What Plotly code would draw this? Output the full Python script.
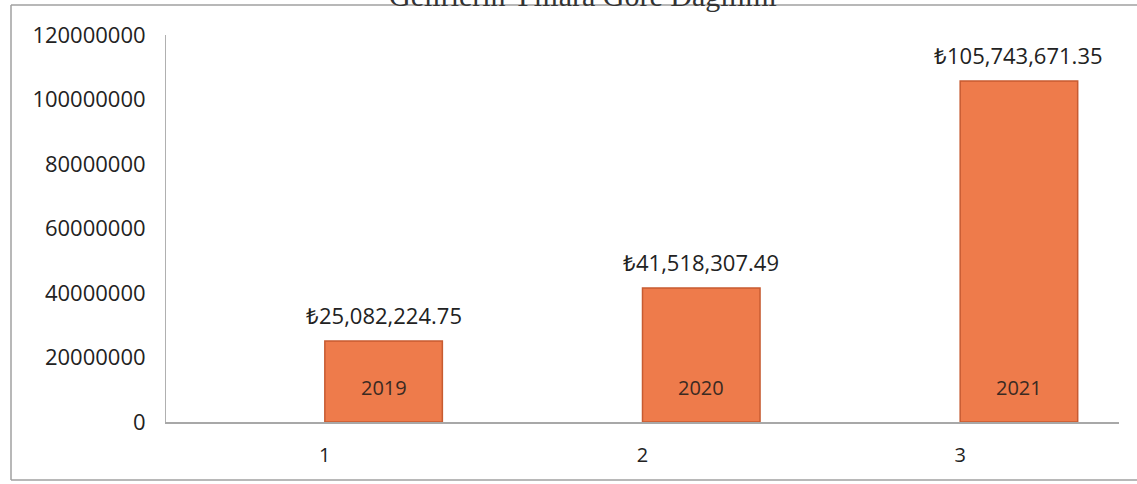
import plotly.graph_objects as go

categories = [1, 2, 3]
years = ["2019", "2020", "2021"]
values = [25082224.75, 41518307.49, 105743671.35]
value_labels = ["₺25,082,224.75", "₺41,518,307.49", "₺105,743,671.35"]
y_ticks = [0, 20000000, 40000000, 60000000, 80000000, 100000000, 120000000]
y_tick_labels = [str(v) for v in y_ticks]

BAR_W = 0.37
FONT = "Open Sans"

fig = go.Figure()
fig.add_trace(go.Bar(
    x=categories, y=values, width=BAR_W, offset=0,
    marker=dict(color="#EE7B4B", line=dict(color="#C75B31", width=1.5)),
    hoverinfo="skip",
))

annotations = []
for c, v, lab, yr in zip(categories, values, value_labels, years):
    annotations.append(dict(x=c + BAR_W / 2, y=v, xref="x", yref="y", text=lab,
                            showarrow=False, yanchor="middle", yshift=26,
                            font=dict(family=FONT, size=22, color="#222222")))
    annotations.append(dict(x=c + BAR_W / 2, y=0, xref="x", yref="y", text=yr,
                            showarrow=False, yanchor="middle", yshift=35,
                            font=dict(family=FONT, size=20, color="#3a2a22")))

annotations.append(dict(x=0.4375, y=1, xref="paper", yref="paper",
                        text="Gelirlerin Yıllara Göre Dağılımı", showarrow=False,
                        yanchor="middle", yshift=40, xanchor="center",
                        font=dict(family="Liberation Serif", size=30, color="#333333")))

# decorative frame (left, top, bottom edges)
fx0, fx1 = (11 - 166) / 953, (1137 - 166) / 953
fy0, fy1 = -(480 - 422) / 387, (422 - 5) / 387
frame_style = dict(color="#a0a0a0", width=1.5)
shapes = [
    dict(type="line", xref="paper", yref="paper", x0=fx0, x1=fx0, y0=fy0, y1=fy1, line=frame_style, layer="below"),
    dict(type="line", xref="paper", yref="paper", x0=fx0, x1=fx1, y0=fy1, y1=fy1, line=frame_style, layer="below"),
    dict(type="line", xref="paper", yref="paper", x0=fx0, x1=fx1, y0=fy0, y1=fy0, line=frame_style, layer="below"),
]

fig.update_layout(
    width=1137, height=484,
    margin=dict(l=166, r=18, t=35, b=62),
    paper_bgcolor="white", plot_bgcolor="white",
    showlegend=False,
    annotations=annotations,
    shapes=shapes,
    xaxis=dict(range=[0.5, 3.5], tickvals=categories, ticktext=[str(c) for c in categories],
               showgrid=False, zeroline=False, showline=True, linecolor="#a8a8a8", linewidth=1.5,
               ticks="", ticklen=0, ticklabelstandoff=14,
               tickfont=dict(family=FONT, size=20, color="#222222")),
    yaxis=dict(range=[0, 120000000], tickvals=y_ticks, ticktext=y_tick_labels,
               showgrid=False, zeroline=False, showline=True, linecolor="#b0b0b0", linewidth=1,
               ticks="", ticklen=0, ticklabelstandoff=15,
               tickfont=dict(family=FONT, size=22, color="#222222")),
)

fig.write_html("out.html",
               post_script="document.body.style.margin='0';document.body.style.overflow='hidden';",
               config={"displayModeBar": False})
